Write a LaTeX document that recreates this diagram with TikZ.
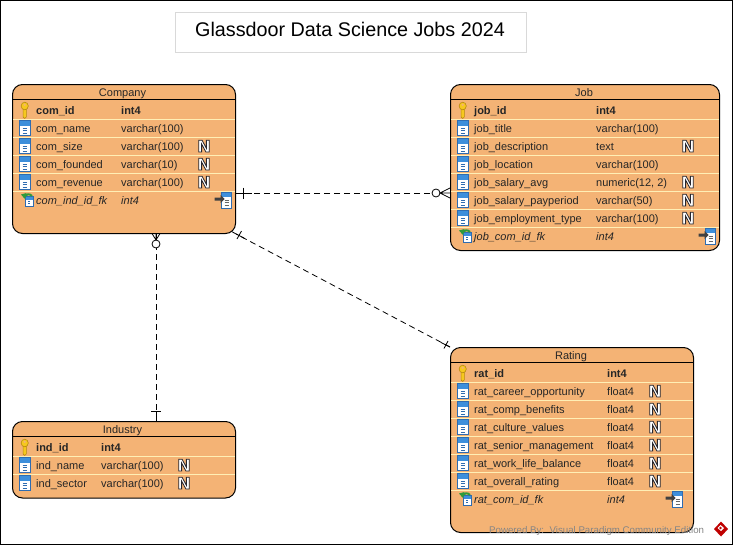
\documentclass[tikz,border=0pt]{standalone}
\usepackage{fontspec}
\setmainfont{Liberation Sans}
\newfontfamily\nmarkfont{DejaVu Sans}
\definecolor{tablefill}{HTML}{F4B375}
\definecolor{rowline}{HTML}{FFEFB5}
\definecolor{inktext}{HTML}{262626}
\definecolor{iconblue}{HTML}{3D8FDB}
\definecolor{iconedge}{HTML}{2F6CB0}
\definecolor{keygold}{HTML}{F6C81E}
\definecolor{keyedge}{HTML}{B88A10}
\definecolor{fkgreen}{HTML}{2E9A3C}
\tikzset{
  x=1pt,y=-1pt,
  tablebox/.style={draw=black,line width=1pt,fill=tablefill,rounded corners=10pt},
  headline/.style={draw=black,line width=1pt},
  rowsep/.style={draw=rowline,line width=1pt},
  heading/.style={inner sep=0pt,anchor=base,font=\fontsize{11}{13}\selectfont,text=inktext},
  cell/.style={inner sep=0pt,anchor=base west,font=\fontsize{11}{13}\selectfont,text=inktext},
  relation/.style={draw=black,line width=0.8pt,dash pattern=on 6pt off 4pt},
  endmark/.style={draw=black,line width=0.8pt},
  colicon/.pic={
    \fill[white] (-5.5,-7.5) rectangle (5.5,7.5);
    \fill[iconblue] (-5.5,-7.5) rectangle (5.5,-2.5);
    \draw[iconedge,line width=0.9pt] (-5.5,-7.5) rectangle (5.5,7.5);
    \draw[iconedge,line width=1pt] (-2,0) -- (2,0) (-2,2.5) -- (2,2.5) (-2,5) -- (2,5);
  },
  keyicon/.pic={
    \fill[keygold,draw=keyedge,line width=0.6pt] (-1.6,-1) -- (-1.6,7) -- (0,8.5) -- (1.6,7) -- (1.6,-1) -- cycle;
    \fill[keygold,draw=keyedge,line width=0.6pt] (0,-4) ellipse (3.6 and 3.8);
    \fill[tablefill] (0,-5.2) ellipse (1.4 and 1.2);
  },
  fkicon/.pic={
    \fill[white] (0,-3) rectangle (8,6.5);
    \fill[iconblue] (0,-3) rectangle (8,0);
    \draw[iconedge,line width=0.6pt] (0,-3) rectangle (8,6.5);
    \draw[iconedge,line width=1pt] (3,2) -- (5,2) (3,4.2) -- (5,4.2);
    \draw[fkgreen,line width=2pt] (-1,-2) .. controls (1,-6) and (5,-6) .. (7,-3.5);
    \fill[fkgreen] (-4,-5) -- (1.5,-6.5) -- (0,-0.5) -- cycle;
  },
  reficon/.pic={
    \fill[white] (-2,-8) rectangle (7.5,8);
    \fill[iconblue] (-2,-8) rectangle (7.5,-3.5);
    \draw[iconedge,line width=0.7pt] (-2,-8) rectangle (7.5,8);
    \draw[black!60,line width=1pt] (1,0) -- (5,0) (1,2.5) -- (5,2.5) (1,5) -- (5,5);
    \fill[black!75] (-9,-2.5) -- (-3,-2.5) -- (-3,-5) -- (1,-1) -- (-3,3) -- (-3,0.5) -- (-9,0.5) -- cycle;
  }
}
% one table row: icon, font switch, y of baseline, x of name, x of type, id, name, type
\newcommand{\tablerow}[8]{%
  \pic at ({#4-11.3},{#3-4}) {#1};
  \node[cell,font=\fontsize{11}{13}\selectfont#2] (#6) at (#4,#3) {#7};
  \node[cell,font=\fontsize{11}{13}\selectfont#2] (#6-type) at (#5,#3) {#8};
}
\newcommand{\fkrow}[8]{%
  \pic at ({#4-11},{#3-4.5}) {fkicon};
  \node[cell,font=\fontsize{11}{13}\selectfont\itshape] (#6) at (#4,#3) {#7};
  \node[cell,font=\fontsize{11}{13}\selectfont\itshape] (#6-type) at (#5,#3) {#8};
  \pic at (#1,{#3-4}) {reficon};
}
\newcommand{\nullmark}[3]{%
  \node[inner sep=0pt,anchor=base,text=white,font=\nmarkfont\fontsize{16}{16}\selectfont\bfseries] (#3) at (#1,{#2+2})
    {\special{pdf:code q 2 Tr 0.8 w 0.15 0.15 0.18 RG}N\special{pdf:code Q}};
}
\begin{document}
\begin{tikzpicture}
\useasboundingbox (0,0) rectangle (733,546);
\fill[white] (0,0) rectangle (733,546);
\draw[black,line width=1pt] (0.5,0.5) rectangle (732,544.5);

% title
\node[draw=black!15,line width=1pt,fill=white,minimum width=351pt,minimum height=40pt,inner sep=0pt] (title) at (351,32.5) {};
\node[inner sep=0pt,anchor=base,font=\fontsize{19.75}{24}\selectfont,text=black] (titletext) at (350,36) {Glassdoor Data Science Jobs 2024};

% Company
\node[tablebox,minimum width=223pt,minimum height=149pt,inner sep=0pt] (company) at (124,159) {};
\draw[headline] (12.5,99.5) -- (235.5,99.5);
\foreach \yy in {119.5,137.5,155.5,173.5,191.5} \draw[rowsep] (13,\yy) -- (235,\yy);
\node[heading] (company-title) at (122.5,96) {Company};
\tablerow{keyicon}{\bfseries}{114}{36}{121}{com-id}{com\_id}{int4}
\tablerow{colicon}{}{132}{36}{121}{com-name}{com\_name}{varchar(100)}
\tablerow{colicon}{}{150}{36}{121}{com-size}{com\_size}{varchar(100)}
\tablerow{colicon}{}{168}{36}{121}{com-founded}{com\_founded}{varchar(10)}
\tablerow{colicon}{}{186}{36}{121}{com-revenue}{com\_revenue}{varchar(100)}
\fkrow{223.5}{}{204}{36}{121}{com-fk}{com\_ind\_id\_fk}{int4}
\nullmark{204}{150}{com-n1}
\nullmark{204}{168}{com-n2}
\nullmark{204}{186}{com-n3}

% Job
\node[tablebox,minimum width=269pt,minimum height=166pt,inner sep=0pt] (job) at (585,167.5) {};
\draw[headline] (450.5,99.5) -- (719.5,99.5);
\foreach \yy in {119.5,137.5,155.5,173.5,191.5,209.5,227.5} \draw[rowsep] (451,\yy) -- (719,\yy);
\node[heading] (job-title-head) at (584,96) {Job};
\tablerow{keyicon}{\bfseries}{114}{474}{596}{job-id}{job\_id}{int4}
\tablerow{colicon}{}{132}{474}{596}{job-title}{job\_title}{varchar(100)}
\tablerow{colicon}{}{150}{474}{596}{job-desc}{job\_description}{text}
\tablerow{colicon}{}{168}{474}{596}{job-loc}{job\_location}{varchar(100)}
\tablerow{colicon}{}{186}{474}{596}{job-avg}{job\_salary\_avg}{numeric(12, 2)}
\tablerow{colicon}{}{204}{474}{596}{job-pay}{job\_salary\_payperiod}{varchar(50)}
\tablerow{colicon}{}{222}{474}{596}{job-emp}{job\_employment\_type}{varchar(100)}
\fkrow{707.5}{}{240}{474}{596}{job-fk}{job\_com\_id\_fk}{int4}
\nullmark{688}{150}{job-n1}
\nullmark{688}{186}{job-n2}
\nullmark{688}{204}{job-n3}
\nullmark{688}{222}{job-n4}

% Rating
\node[tablebox,minimum width=243pt,minimum height=185pt,inner sep=0pt] (rating) at (572,440) {};
\draw[headline] (450.5,362.5) -- (693.5,362.5);
\foreach \yy in {382.5,400.5,418.5,436.5,454.5,472.5,490.5} \draw[rowsep] (451,\yy) -- (693,\yy);
\node[heading] (rating-title) at (571,359) {Rating};
\tablerow{keyicon}{\bfseries}{377}{474}{607}{rat-id}{rat\_id}{int4}
\tablerow{colicon}{}{395}{474}{607}{rat-career}{rat\_career\_opportunity}{float4}
\tablerow{colicon}{}{413}{474}{607}{rat-comp}{rat\_comp\_benefits}{float4}
\tablerow{colicon}{}{431}{474}{607}{rat-culture}{rat\_culture\_values}{float4}
\tablerow{colicon}{}{449}{474}{607}{rat-senior}{rat\_senior\_management}{float4}
\tablerow{colicon}{}{467}{474}{607}{rat-work}{rat\_work\_life\_balance}{float4}
\tablerow{colicon}{}{485}{474}{607}{rat-overall}{rat\_overall\_rating}{float4}
\fkrow{674.5}{}{503}{474}{607}{rat-fk}{rat\_com\_id\_fk}{int4}
\nullmark{655}{395}{rat-n1}
\nullmark{655}{413}{rat-n2}
\nullmark{655}{431}{rat-n3}
\nullmark{655}{449}{rat-n4}
\nullmark{655}{467}{rat-n5}
\nullmark{655}{485}{rat-n6}

% Industry
\node[tablebox,minimum width=223pt,minimum height=76.5pt,inner sep=0pt] (industry) at (124,459.75) {};
\draw[headline] (12.5,436.5) -- (235.5,436.5);
\foreach \yy in {456.5,474.5} \draw[rowsep] (13,\yy) -- (235,\yy);
\node[heading] (industry-title) at (122.5,433) {Industry};
\tablerow{keyicon}{\bfseries}{451}{36}{101}{ind-id}{ind\_id}{int4}
\tablerow{colicon}{}{469}{36}{101}{ind-name}{ind\_name}{varchar(100)}
\tablerow{colicon}{}{487}{36}{101}{ind-sector}{ind\_sector}{varchar(100)}
\nullmark{184}{469}{ind-n1}
\nullmark{184}{487}{ind-n2}

% connectors
\coordinate (cj-a) at (company.east |- 0,193);
\coordinate (cj-b) at (job.west |- 0,193);
\coordinate (ci-a) at (company.south -| 156,0);
\coordinate (ci-b) at (industry.north -| 156,0);
\coordinate (cr-a) at (company.south east);
\coordinate (cr-b) at (rating.north west);
\draw[relation] (cj-b) -- (cj-a);
\draw[relation] (ci-a) -- (ci-b);
\draw[relation] (cr-b) -- (cr-a);
% Company-Job ends
\draw[endmark] (cj-a) -- ++(15.5,0);
\draw[endmark] (243.5,187.5) -- (243.5,198.5);
\fill[white] (440,191.5) rectangle (450,194.5);
\draw[endmark,fill=white] (436,193) circle (4);
\draw[endmark] (cj-b) -- (440,193) (450,188) -- (440,193) -- (450,198);
% Company-Industry ends
\draw[endmark,fill=white] (156,244) circle (4);
\draw[endmark] (ci-a) -- (156,240) (152,233.5) -- (156,240) -- (160,233.5);
\draw[endmark] (ci-b) -- (156,411) (151,411) -- (161,411);
% Company-Rating ends
\draw[endmark] (231.5,231.5) -- (245,238.6);
\draw[endmark] (237,239) -- (241.5,231);
\draw[endmark] (cr-b) -- (441,342.5);
\draw[endmark] (444,348.5) -- (448,341);
% watermark
\node[inner sep=0pt,anchor=base west,font=\fontsize{9.7}{12}\selectfont,text=black!48] (watermark) at (489,533.5) {Powered By:\ \ Visual Paradigm Community Edition};
\fill[red!75!black] (721,521.5) -- (728,529) -- (721,536.5) -- (714,529) -- cycle;
\fill[white] (720.5,525) -- (724,528) -- (721,531) -- (717.5,528) -- cycle;
\fill[red!75!black] (720.5,526.7) -- (722,528) -- (720.5,529.3) -- (719,528) -- cycle;
\end{tikzpicture}
\end{document}
